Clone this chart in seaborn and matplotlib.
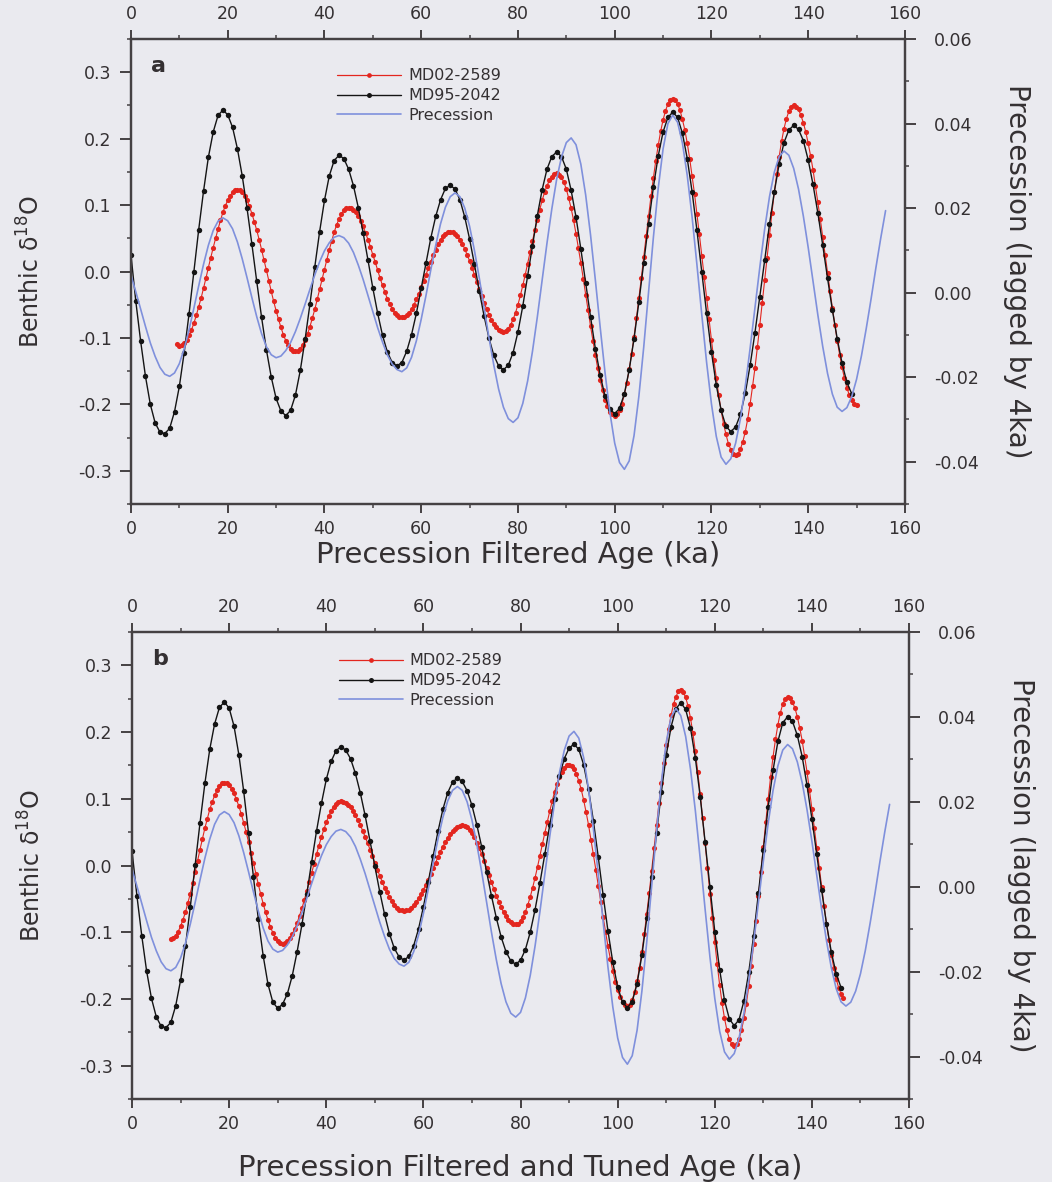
import numpy as np
import matplotlib
matplotlib.use("Agg")
import matplotlib.pyplot as plt
import seaborn as sns
from matplotlib.ticker import MultipleLocator, FormatStrFormatter
from matplotlib.lines import Line2D

# ---------------------------------------------------------------------------
# Precession-band filtered benthic d18O records (MD02-2589, MD95-2042)
# and the precession index lagged by 4 ka.
# ---------------------------------------------------------------------------

# Precession index, 0-156 ka at 1 ka steps (right axis)
precession_age = np.arange(0, 157, 1.0)
precession = [
    0.0041, 0.0002, -0.0039, -0.0080, -0.0119, -0.0151, -0.0177, -0.0193, -0.0198,
    -0.0190, -0.0168, -0.0133, -0.0088, -0.0037, 0.0016, 0.0067, 0.0112, 0.0147, 0.0169, 0.0177,
    0.0170, 0.0151, 0.0120, 0.0080, 0.0035, -0.0012, -0.0057, -0.0097, -0.0128, -0.0147, -0.0154,
    -0.0150, -0.0137, -0.0118, -0.0092, -0.0061, -0.0027, 0.0008, 0.0042, 0.0073, 0.0099, 0.0118, 0.0131, 0.0135,
    0.0130, 0.0117, 0.0095, 0.0065, 0.0031, -0.0007, -0.0045, -0.0083, -0.0117, -0.0147, -0.0169, -0.0182, -0.0187,
    -0.0178, -0.0153, -0.0114, -0.0063, -0.0006, 0.0055, 0.0112, 0.0163, 0.0202, 0.0227, 0.0236,
    0.0227, 0.0200, 0.0157, 0.0100, 0.0035, -0.0036, -0.0106, -0.0171, -0.0228, -0.0271, -0.0298, -0.0307,
    -0.0296, -0.0262, -0.0209, -0.0139, -0.0058, 0.0030, 0.0117, 0.0198, 0.0268, 0.0321, 0.0355, 0.0366,
    0.0350, 0.0304, 0.0231, 0.0137, 0.0030, -0.0082, -0.0189, -0.0283, -0.0356, -0.0402, -0.0418,
    -0.0398, -0.0338, -0.0245, -0.0129, 0.0001, 0.0131, 0.0247, 0.0340, 0.0400, 0.0420,
    0.0403, 0.0354, 0.0277, 0.0179, 0.0066, -0.0052, -0.0165, -0.0263, -0.0340, -0.0389, -0.0406,
    -0.0393, -0.0356, -0.0298, -0.0221, -0.0131, -0.0036, 0.0060, 0.0150, 0.0227, 0.0285, 0.0322, 0.0335,
    0.0325, 0.0294, 0.0245, 0.0181, 0.0107, 0.0027, -0.0053, -0.0127, -0.0191, -0.0240, -0.0271, -0.0281,
    -0.0272, -0.0246, -0.0205, -0.0150, -0.0085, -0.0015, 0.0059, 0.0129, 0.0194,
]

# MD95-2042, precession filtered age model (0-149 ka, 1 ka steps)
md95_age_a = np.arange(0, 150, 1.0)
md95_a = [
    0.025, -0.045, -0.105, -0.158, -0.200, -0.228, -0.242, -0.244,
    -0.236, -0.211, -0.173, -0.122, -0.064, 0.000, 0.063, 0.121, 0.172, 0.210, 0.235, 0.243,
    0.236, 0.217, 0.185, 0.144, 0.095, 0.041, -0.015, -0.069, -0.118, -0.159, -0.191, -0.210, -0.217,
    -0.209, -0.186, -0.149, -0.102, -0.049, 0.007, 0.060, 0.107, 0.144, 0.167, 0.175,
    0.170, 0.154, 0.129, 0.096, 0.058, 0.017, -0.025, -0.063, -0.096, -0.121, -0.137, -0.142,
    -0.137, -0.120, -0.095, -0.063, -0.025, 0.013, 0.051, 0.083, 0.108, 0.125, 0.130,
    0.124, 0.108, 0.082, 0.049, 0.011, -0.029, -0.067, -0.100, -0.126, -0.142, -0.148,
    -0.141, -0.122, -0.091, -0.052, -0.007, 0.039, 0.084, 0.123, 0.154, 0.173, 0.180,
    0.173, 0.154, 0.122, 0.082, 0.034, -0.017, -0.068, -0.116, -0.156, -0.188, -0.207, -0.214,
    -0.206, -0.184, -0.148, -0.101, -0.046, 0.013, 0.072, 0.127, 0.174, 0.210, 0.232, 0.240,
    0.232, 0.208, 0.170, 0.120, 0.062, -0.001, -0.063, -0.121, -0.171, -0.209, -0.233, -0.241,
    -0.234, -0.215, -0.183, -0.141, -0.092, -0.038, 0.017, 0.071, 0.120, 0.162, 0.194, 0.213, 0.220,
    0.214, 0.197, 0.168, 0.131, 0.088, 0.040, -0.010, -0.058, -0.101, -0.138, -0.167, -0.184,
]

# MD95-2042, filtered and tuned age model (0-146 ka, 1 ka steps)
md95_age_b = np.arange(0, 147, 1.0)
md95_b = [
    0.022, -0.045, -0.105, -0.158, -0.199, -0.227, -0.241, -0.243,
    -0.235, -0.210, -0.172, -0.121, -0.062, 0.001, 0.064, 0.123, 0.174, 0.212, 0.237, 0.245,
    0.236, 0.209, 0.166, 0.111, 0.048, -0.017, -0.080, -0.135, -0.178, -0.205, -0.214,
    -0.208, -0.192, -0.165, -0.129, -0.088, -0.042, 0.006, 0.052, 0.093, 0.129, 0.156, 0.172, 0.178,
    0.173, 0.160, 0.138, 0.109, 0.075, 0.037, -0.001, -0.039, -0.073, -0.102, -0.124, -0.137, -0.142,
    -0.136, -0.120, -0.095, -0.062, -0.025, 0.014, 0.051, 0.084, 0.109, 0.125, 0.131,
    0.126, 0.112, 0.090, 0.061, 0.028, -0.009, -0.045, -0.078, -0.107, -0.129, -0.143, -0.148,
    -0.142, -0.126, -0.100, -0.066, -0.026, 0.017, 0.060, 0.100, 0.134, 0.160, 0.176, 0.182,
    0.174, 0.151, 0.114, 0.067, 0.013, -0.044, -0.098, -0.145, -0.182, -0.205, -0.213,
    -0.204, -0.177, -0.134, -0.079, -0.017, 0.048, 0.110, 0.165, 0.208, 0.235, 0.244,
    0.234, 0.206, 0.161, 0.103, 0.036, -0.032, -0.099, -0.156, -0.202, -0.230, -0.240,
    -0.231, -0.203, -0.160, -0.105, -0.041, 0.024, 0.088, 0.143, 0.186, 0.214, 0.223,
    0.216, 0.195, 0.163, 0.120, 0.070, 0.017, -0.037, -0.087, -0.130, -0.162, -0.183,
]

# MD02-2589, precession filtered age model (9.5-150 ka, 0.5 ka steps)
md02_age_a = np.arange(9.5, 150.25, 0.5)
md02_a = [
    -0.109,
    -0.112, -0.111, -0.108, -0.103, -0.096, -0.088, -0.078, -0.066, -0.053, -0.040, -0.025, -0.010,
    0.006, 0.021, 0.036, 0.050, 0.064, 0.077, 0.089, 0.099, 0.107, 0.114, 0.119, 0.122, 0.123,
    0.122, 0.119, 0.114, 0.107, 0.098, 0.087, 0.075, 0.062, 0.048, 0.033, 0.017, 0.002,
    -0.014, -0.030, -0.045, -0.059, -0.072, -0.084, -0.095, -0.104, -0.111, -0.116, -0.119, -0.120,
    -0.119, -0.116, -0.110, -0.103, -0.094, -0.083, -0.070, -0.057, -0.042, -0.027, -0.012,
    0.003, 0.018, 0.033, 0.046, 0.059, 0.070, 0.079, 0.086, 0.092, 0.095, 0.096,
    0.095, 0.093, 0.089, 0.083, 0.076, 0.068, 0.058, 0.048, 0.037, 0.025, 0.014,
    0.002, -0.010, -0.021, -0.031, -0.041, -0.049, -0.056, -0.062, -0.066, -0.068, -0.069,
    -0.068, -0.066, -0.062, -0.057, -0.050, -0.042, -0.034, -0.024, -0.015, -0.005,
    0.006, 0.015, 0.025, 0.033, 0.041, 0.048, 0.053, 0.057, 0.059, 0.060,
    0.059, 0.057, 0.053, 0.048, 0.042, 0.034, 0.025, 0.016, 0.006, -0.005, -0.016,
    -0.026, -0.037, -0.047, -0.056, -0.065, -0.073, -0.079, -0.084, -0.088, -0.090, -0.091,
    -0.090, -0.086, -0.080, -0.072, -0.062, -0.050, -0.036, -0.021, -0.005, 0.012, 0.029,
    0.046, 0.062, 0.078, 0.093, 0.107, 0.119, 0.129, 0.137, 0.143, 0.147, 0.148,
    0.146, 0.142, 0.134, 0.124, 0.110, 0.095, 0.077, 0.057, 0.035, 0.013, -0.011, -0.035,
    -0.058, -0.082, -0.104, -0.126, -0.146, -0.164, -0.179, -0.193, -0.203, -0.211, -0.215, -0.217,
    -0.215, -0.209, -0.199, -0.185, -0.168, -0.147, -0.124, -0.098, -0.070, -0.040, -0.010, 0.022,
    0.053, 0.083, 0.113, 0.141, 0.167, 0.190, 0.211, 0.228, 0.242, 0.252, 0.258, 0.260,
    0.258, 0.252, 0.243, 0.229, 0.213, 0.193, 0.170, 0.144, 0.117, 0.087, 0.056, 0.024, -0.008,
    -0.040, -0.072, -0.103, -0.133, -0.160, -0.186, -0.209, -0.229, -0.245, -0.259, -0.268, -0.274, -0.276,
    -0.274, -0.267, -0.256, -0.241, -0.222, -0.199, -0.173, -0.145, -0.114, -0.081, -0.047, -0.013,
    0.021, 0.055, 0.088, 0.119, 0.147, 0.173, 0.196, 0.215, 0.230, 0.241, 0.248, 0.250,
    0.248, 0.244, 0.235, 0.224, 0.210, 0.193, 0.174, 0.153, 0.129, 0.104, 0.079, 0.052, 0.025,
    -0.003, -0.030, -0.055, -0.080, -0.104, -0.125, -0.144, -0.161, -0.175, -0.186, -0.194, -0.199, -0.201,
]

# MD02-2589, filtered and tuned age model (8-146.5 ka, 0.5 ka steps)
md02_age_b = np.arange(8.0, 146.75, 0.5)
md02_b = [
    -0.110, -0.109, -0.105, -0.099, -0.091, -0.081, -0.070, -0.056, -0.042, -0.026, -0.010, 0.007,
    0.024, 0.040, 0.056, 0.070, 0.084, 0.095, 0.105, 0.113, 0.119, 0.123, 0.124,
    0.123, 0.120, 0.115, 0.108, 0.099, 0.089, 0.077, 0.064, 0.050, 0.035, 0.019, 0.004,
    -0.012, -0.028, -0.043, -0.057, -0.070, -0.082, -0.092, -0.101, -0.108, -0.113, -0.116, -0.117,
    -0.116, -0.113, -0.109, -0.103, -0.095, -0.086, -0.075, -0.064, -0.051, -0.038, -0.024, -0.011,
    0.003, 0.017, 0.030, 0.043, 0.054, 0.065, 0.074, 0.082, 0.088, 0.092, 0.095, 0.096,
    0.095, 0.094, 0.091, 0.087, 0.082, 0.075, 0.068, 0.061, 0.052, 0.043, 0.034, 0.024, 0.014,
    0.004, -0.006, -0.015, -0.024, -0.033, -0.040, -0.047, -0.053, -0.059, -0.063, -0.066, -0.067, -0.068,
    -0.067, -0.066, -0.063, -0.059, -0.055, -0.049, -0.043, -0.036, -0.029, -0.021, -0.012, -0.004,
    0.004, 0.013, 0.021, 0.028, 0.035, 0.041, 0.047, 0.051, 0.055, 0.058, 0.059, 0.060,
    0.059, 0.057, 0.053, 0.048, 0.042, 0.034, 0.026, 0.017, 0.007, -0.003, -0.014,
    -0.025, -0.035, -0.045, -0.054, -0.062, -0.070, -0.076, -0.081, -0.085, -0.087, -0.088,
    -0.087, -0.083, -0.077, -0.069, -0.059, -0.047, -0.033, -0.018, -0.002, 0.015, 0.032,
    0.049, 0.065, 0.081, 0.096, 0.110, 0.122, 0.132, 0.140, 0.146, 0.150, 0.151,
    0.149, 0.145, 0.137, 0.127, 0.114, 0.098, 0.080, 0.061, 0.039, 0.017, -0.006, -0.030,
    -0.054, -0.077, -0.099, -0.121, -0.140, -0.158, -0.174, -0.187, -0.197, -0.205, -0.209, -0.211,
    -0.209, -0.201, -0.190, -0.173, -0.153, -0.129, -0.102, -0.072, -0.041, -0.008, 0.026,
    0.060, 0.093, 0.124, 0.154, 0.181, 0.205, 0.225, 0.242, 0.253, 0.261, 0.263,
    0.260, 0.252, 0.239, 0.221, 0.198, 0.171, 0.140, 0.107, 0.071, 0.034, -0.004,
    -0.042, -0.079, -0.115, -0.148, -0.179, -0.206, -0.229, -0.247, -0.260, -0.268, -0.271,
    -0.268, -0.260, -0.247, -0.229, -0.207, -0.181, -0.151, -0.118, -0.083, -0.046, -0.009,
    0.028, 0.065, 0.100, 0.133, 0.163, 0.189, 0.211, 0.229, 0.242, 0.250, 0.253,
    0.251, 0.245, 0.236, 0.223, 0.206, 0.187, 0.164, 0.140, 0.113, 0.085, 0.056, 0.027,
    -0.003, -0.032, -0.060, -0.087, -0.111, -0.134, -0.153, -0.170, -0.183, -0.192, -0.198,
]

series_labels = ["MD02-2589", "MD95-2042", "Precession"]
age_ticks = [0, 20, 40, 60, 80, 100, 120, 140, 160]
d18o_ticks = [-0.3, -0.2, -0.1, 0.0, 0.1, 0.2, 0.3]
prec_ticks = [-0.04, -0.02, 0.00, 0.02, 0.04, 0.06]

# ---------------------------------------------------------------------------
sns.set_style("ticks")
plt.rcParams["font.family"] = ["DejaVu Sans"]
plt.rcParams["mathtext.default"] = "regular"
plt.rcParams["axes.unicode_minus"] = False

BG = "#eaeaef"
INK = "#343032"
SPINE = "#454143"
RED = "#e3261f"
BLACK = "#141414"
BLUE = "#7f90dc"

fig = plt.figure(figsize=(10.52, 11.82), dpi=100, facecolor=BG)

panels = [
    dict(letter="a", rect=[0.1245, 0.5736, 0.7357, 0.3934],
         xlabel="Precession Filtered Age (ka)", xpad=2,
         red_age=md02_age_a, red=md02_a, blk_age=md95_age_a, blk=md95_a,
         leg_y=0.937, let_y=0.93),
    dict(letter="b", rect=[0.1255, 0.0702, 0.7386, 0.3951],
         xlabel="Precession Filtered and Tuned Age (ka)", xpad=15,
         red_age=md02_age_b, red=md02_b, blk_age=md95_age_b, blk=md95_b,
         leg_y=0.954, let_y=0.93),
]


def style_axis(a):
    for s in a.spines.values():
        s.set_color(SPINE)
        s.set_linewidth(1.6)
    a.tick_params(which="both", direction="out", color=SPINE, labelcolor=INK,
                  labelsize=12.5)
    a.tick_params(which="major", length=6.5, width=1.4)
    a.tick_params(which="minor", length=3, width=1.1)


for p in panels:
    ax = fig.add_axes(p["rect"])
    ax.set_facecolor(BG)

    sns.lineplot(x=p["red_age"], y=p["red"], ax=ax, color=RED, lw=0.8,
                 marker="o", markersize=3.7, markeredgewidth=0,
                 estimator=None, sort=False, legend=False)
    sns.lineplot(x=p["blk_age"], y=p["blk"], ax=ax, color=BLACK, lw=1.0,
                 marker="o", markersize=3.9, markeredgewidth=0,
                 estimator=None, sort=False, legend=False)

    ax.set_xlim(0, 160)
    ax.set_ylim(-0.35, 0.35)
    ax.set_xticks(age_ticks)
    ax.xaxis.set_minor_locator(MultipleLocator(10))
    ax.set_yticks(d18o_ticks)
    ax.yaxis.set_minor_locator(MultipleLocator(0.05))
    ax.yaxis.set_major_formatter(FormatStrFormatter("%.1f"))
    style_axis(ax)
    ax.tick_params(axis="x", which="both", top=True, labeltop=True, pad=5)
    ax.tick_params(axis="y", which="major", length=8, pad=6)
    ax.set_xlabel(p["xlabel"], fontsize=21, color=INK, labelpad=p["xpad"])
    ax.set_ylabel("Benthic δ$^{18}$O", fontsize=17, color=INK, labelpad=24)

    ax2 = ax.twinx()
    sns.lineplot(x=precession_age, y=precession, ax=ax2, color=BLUE, lw=1.2,
                 estimator=None, sort=False, legend=False)
    ax2.set_ylim(-0.05, 0.06)
    ax2.set_yticks(prec_ticks)
    ax2.yaxis.set_minor_locator(MultipleLocator(0.01))
    ax2.yaxis.set_major_formatter(FormatStrFormatter("%.2f"))
    style_axis(ax2)
    ax2.tick_params(axis="y", which="major", length=8, pad=13)
    ax2.set_ylabel("Precession (lagged by 4ka)", fontsize=20, color=INK,
                   rotation=270, va="bottom", labelpad=17)

    ax2.text(0.026, p["let_y"], p["letter"], transform=ax.transAxes,
             fontsize=16, fontweight="bold", color=INK, va="baseline")

    handles = [
        Line2D([], [], color=RED, lw=0.9, marker="o", markersize=3.4,
               markeredgewidth=0),
        Line2D([], [], color=BLACK, lw=1.0, marker="o", markersize=3.6,
               markeredgewidth=0),
        Line2D([], [], color=BLUE, lw=1.2),
    ]
    leg = ax2.legend(handles, series_labels, loc="upper left",
                     bbox_to_anchor=(0.266, p["leg_y"]), frameon=False,
                     fontsize=11.5, handlelength=4.0, handletextpad=0.45,
                     labelspacing=0.3, numpoints=1, borderaxespad=0,
                     borderpad=0)
    for t in leg.get_texts():
        t.set_color(INK)

fig.savefig("out.png", dpi=100, facecolor=BG)
